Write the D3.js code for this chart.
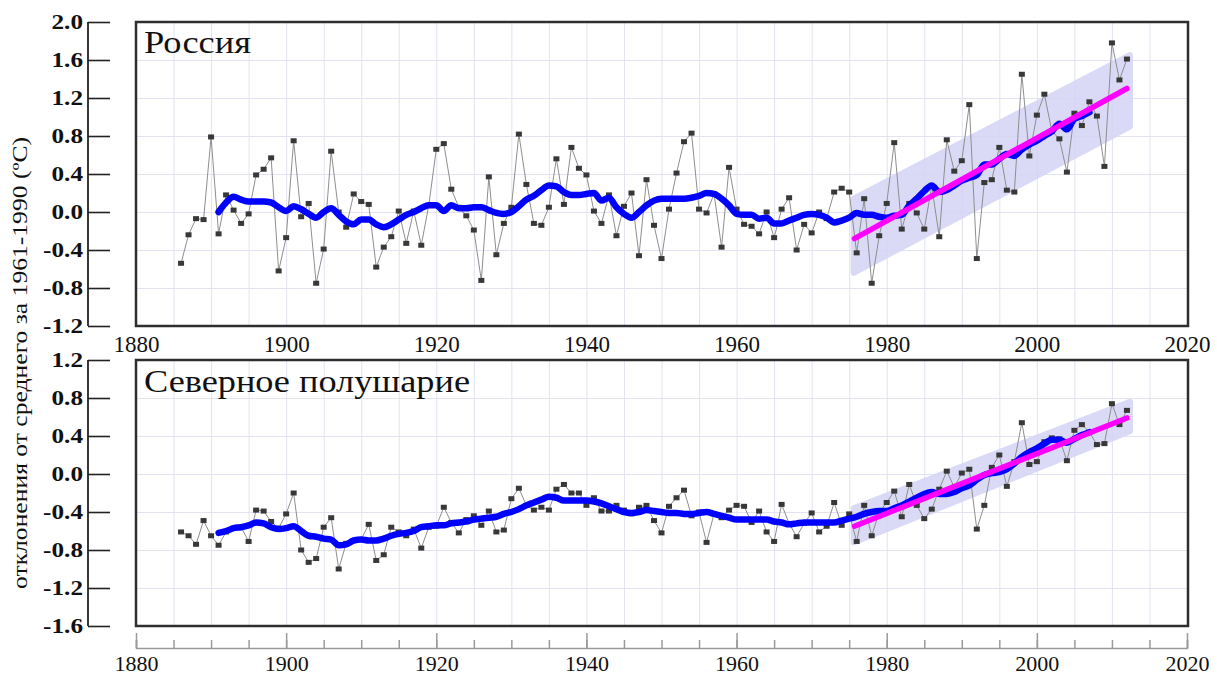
<!DOCTYPE html>
<html>
<head>
<meta charset="utf-8">
<script src="https://cdn.jsdelivr.net/npm/d3@7"></script>
<style>
body { margin: 0; background: #fff; }
svg { display: block; }
</style>
</head>
<body>
<svg id="chart" width="1217" height="675"></svg>
<script>
// yearly anomalies, 1886-2012
const pointYears = d3.range(1886, 2013);
// smoothed curve, 1891-2007
const smoothYears = d3.range(1891, 2008);

const russiaValues = [
  -0.54, -0.24, -0.07, -0.08, 0.79, -0.23, 0.18, 0.02, -0.12, -0.02,
  0.39, 0.45, 0.57, -0.62, -0.27, 0.75, -0.05, 0.09, -0.75, -0.39,
  0.64, 0.00, -0.16, 0.19, 0.11, 0.08, -0.58, -0.37, -0.26, 0.01,
  -0.33, 0.01, -0.35, 0.07, 0.66, 0.72, 0.24, 0.05, -0.04, -0.19,
  -0.72, 0.37, -0.45, -0.12, 0.05, 0.82, 0.29, -0.12, -0.14, 0.05,
  0.56, 0.08, 0.68, 0.46, 0.39, 0.01, -0.12, 0.18, -0.25, 0.06,
  0.20, -0.46, 0.34, -0.14, -0.49, 0.03, 0.41, 0.74, 0.83, 0.03,
  -0.01, 0.19, -0.37, 0.47, 0.03, -0.13, -0.15, -0.23, 0.00, -0.27,
  0.03, 0.15, -0.40, -0.13, -0.22, 0.00, -0.07, 0.21, 0.25, 0.21,
  -0.43, 0.14, -0.75, -0.25, 0.09, 0.73, -0.18, 0.09, -0.01, -0.18,
  0.27, -0.26, 0.76, 0.43, 0.54, 1.13, -0.49, 0.31, 0.34, 0.68,
  0.23, 0.21, 1.45, 0.59, 1.02, 1.24, 0.85, 0.77, 0.42, 1.04,
  0.91, 1.16, 1.01, 0.48, 1.78, 1.39, 1.61
];
const russiaSmooth = [
  0.00, 0.10, 0.16, 0.13, 0.11, 0.11, 0.11, 0.10, 0.05, 0.01,
  0.06, 0.03, -0.02, -0.06, 0.00, 0.04, -0.03, -0.10, -0.13, -0.08,
  -0.08, -0.13, -0.16, -0.13, -0.08, -0.03, 0.00, 0.04, 0.07, 0.07,
  0.01, 0.07, 0.04, 0.04, 0.05, 0.05, 0.02, -0.01, -0.02, 0.00,
  0.06, 0.13, 0.17, 0.23, 0.28, 0.27, 0.21, 0.18, 0.18, 0.19,
  0.20, 0.12, 0.15, 0.05, -0.02, -0.06, 0.00, 0.07, 0.12, 0.14,
  0.14, 0.14, 0.14, 0.15, 0.17, 0.20, 0.19, 0.14, 0.07, -0.02,
  -0.03, -0.03, -0.07, -0.06, -0.12, -0.12, -0.09, -0.06, -0.03, -0.02,
  -0.03, -0.06, -0.11, -0.09, -0.06, -0.01, -0.03, -0.03, -0.05, -0.06,
  -0.04, -0.03, 0.07, 0.14, 0.22, 0.28, 0.21, 0.23, 0.28, 0.33,
  0.36, 0.39, 0.50, 0.50, 0.56, 0.61, 0.59, 0.66, 0.71, 0.75,
  0.80, 0.85, 0.93, 0.87, 0.98, 1.01, 1.05
];
const nhValues = [
  -0.61, -0.65, -0.74, -0.49, -0.65, -0.75, -0.61, -0.57, -0.56, -0.71,
  -0.38, -0.39, -0.50, -0.57, -0.42, -0.20, -0.80, -0.93, -0.89, -0.56,
  -0.46, -1.00, -0.73, -0.70, -0.69, -0.53, -0.91, -0.85, -0.56, -0.61,
  -0.65, -0.58, -0.78, -0.56, -0.55, -0.35, -0.51, -0.62, -0.48, -0.44,
  -0.54, -0.39, -0.61, -0.59, -0.26, -0.15, -0.33, -0.38, -0.35, -0.38,
  -0.16, -0.11, -0.20, -0.20, -0.33, -0.25, -0.39, -0.39, -0.33, -0.38,
  -0.42, -0.35, -0.33, -0.49, -0.62, -0.34, -0.25, -0.17, -0.44, -0.40,
  -0.72, -0.42, -0.46, -0.38, -0.33, -0.34, -0.51, -0.39, -0.61, -0.71,
  -0.32, -0.52, -0.66, -0.52, -0.41, -0.61, -0.55, -0.30, -0.54, -0.42,
  -0.71, -0.33, -0.65, -0.40, -0.30, -0.18, -0.45, -0.11, -0.33, -0.47,
  -0.37, -0.16, 0.03, -0.14, 0.01, 0.05, -0.58, -0.33, 0.07, 0.20,
  -0.13, 0.13, 0.54, 0.10, 0.13, 0.34, 0.38, 0.37, 0.14, 0.46,
  0.52, 0.44, 0.31, 0.32, 0.74, 0.52, 0.67
];
const nhSmooth = [
  -0.62, -0.60, -0.57, -0.56, -0.54, -0.51, -0.52, -0.56, -0.58, -0.57,
  -0.55, -0.60, -0.65, -0.66, -0.68, -0.69, -0.75, -0.74, -0.70, -0.69,
  -0.70, -0.70, -0.68, -0.65, -0.63, -0.62, -0.60, -0.56, -0.55, -0.54,
  -0.54, -0.52, -0.51, -0.50, -0.48, -0.47, -0.46, -0.45, -0.42, -0.40,
  -0.37, -0.33, -0.30, -0.27, -0.24, -0.25, -0.28, -0.28, -0.28, -0.28,
  -0.29, -0.31, -0.34, -0.37, -0.40, -0.41, -0.40, -0.38, -0.39, -0.40,
  -0.41, -0.41, -0.42, -0.42, -0.41, -0.40, -0.42, -0.44, -0.46, -0.48,
  -0.48, -0.48, -0.48, -0.48, -0.50, -0.51, -0.53, -0.52, -0.51, -0.51,
  -0.51, -0.51, -0.51, -0.49, -0.47, -0.45, -0.42, -0.40, -0.39, -0.39,
  -0.36, -0.33, -0.29, -0.25, -0.21, -0.19, -0.21, -0.21, -0.19, -0.15,
  -0.12, -0.06, -0.01, 0.01, 0.02, 0.05, 0.11, 0.18, 0.23, 0.27,
  0.32, 0.36, 0.36, 0.33, 0.37, 0.41, 0.44
];

// linear trend since 1976 and its band
const trendYears = [1975.7, 2012];
const russiaTrend = [-0.28, 1.30];
const nhTrend = [-0.55, 0.59];
const bandYears = [1975.6, 2012.4];
const russiaBandHi = [0.14, 1.65];
const russiaBandLo = [-0.64, 0.90];
const nhBandHi = [-0.36, 0.76];
const nhBandLo = [-0.72, 0.45];

const russiaTicks = [-1.2, -0.8, -0.4, 0.0, 0.4, 0.8, 1.2, 1.6, 2.0];
const nhTicks = [-1.6, -1.2, -0.8, -0.4, 0.0, 0.4, 0.8, 1.2];
const yearTicks = [1880, 1900, 1920, 1940, 1960, 1980, 2000, 2020];
const gridYears = d3.range(1885, 2020, 5);
const minorYears = d3.range(1880, 2021, 5);

const panelTitles = ["Россия", "Северное полушарие"];
const yTitle = "отклонения от среднего за 1961-1990 (ºC)";

const serif = "Liberation Serif, Times New Roman, DejaVu Serif, serif";
const svg = d3.select("#chart");
const x = d3.scaleLinear().domain([1880, 2020]).range([136, 1187]);
const frameLeft = 136, frameRight = 1188;

const panels = [
  { title: panelTitles[0], values: russiaValues, smooth: russiaSmooth, trend: russiaTrend,
    bandHi: russiaBandHi, bandLo: russiaBandLo, ticks: russiaTicks,
    top: 22, bottom: 326, titleY: 53, titleLen: 107 },
  { title: panelTitles[1], values: nhValues, smooth: nhSmooth, trend: nhTrend,
    bandHi: nhBandHi, bandLo: nhBandLo, ticks: nhTicks,
    top: 360, bottom: 626, titleY: 392, titleLen: 326 }
];

panels.forEach(drawPanel);

function drawPanel(p) {
  const y = d3.scaleLinear()
    .domain([p.ticks[0], p.ticks[p.ticks.length - 1]])
    .range([p.bottom, p.top]);
  const g = svg.append("g");

  // light grid
  g.append("g")
    .attr("transform", `translate(0,${p.bottom})`)
    .call(d3.axisBottom(x).tickValues(gridYears).tickSize(-(p.bottom - p.top)).tickFormat(""))
    .call(s => s.select(".domain").remove())
    .selectAll("line").attr("stroke", "#e2e2f2").attr("stroke-width", 1);
  g.append("g")
    .attr("transform", `translate(${frameLeft},0)`)
    .call(d3.axisLeft(y).tickValues(p.ticks.slice(1, -1)).tickSize(-(frameRight - frameLeft)).tickFormat(""))
    .call(s => s.select(".domain").remove())
    .selectAll("line").attr("stroke", "#e2e2f2").attr("stroke-width", 1);

  // band around the trend
  const band = bandYears.map((yr, i) => ({ yr: yr, hi: p.bandHi[i], lo: p.bandLo[i] }));
  g.append("path")
    .datum(band)
    .attr("d", d3.area().x(d => x(d.yr)).y0(d => y(d.lo)).y1(d => y(d.hi)))
    .attr("fill", "#d6d6f6")
    .attr("stroke", "#d6d6f6")
    .attr("stroke-width", 6)
    .attr("stroke-linejoin", "round")
    .attr("opacity", 0.9);

  // yearly values
  const pts = pointYears.map((yr, i) => ({ yr: yr, v: p.values[i] }));
  g.append("path")
    .datum(pts)
    .attr("d", d3.line().x(d => x(d.yr)).y(d => y(d.v)))
    .attr("fill", "none")
    .attr("stroke", "#8e8e8e")
    .attr("stroke-width", 1);
  g.selectAll("rect.pt")
    .data(pts)
    .join("rect")
      .attr("class", "pt")
      .attr("x", d => x(d.yr) - 3)
      .attr("y", d => y(d.v) - 2.5)
      .attr("width", 6)
      .attr("height", 5)
      .attr("fill", "#383838");

  // smoothed curve
  const sm = smoothYears.map((yr, i) => ({ yr: yr, v: p.smooth[i] }));
  g.append("path")
    .datum(sm)
    .attr("d", d3.line().curve(d3.curveMonotoneX).x(d => x(d.yr)).y(d => y(d.v)))
    .attr("fill", "none")
    .attr("stroke", "#0000ff")
    .attr("stroke-width", 6.5)
    .attr("stroke-linejoin", "round")
    .attr("stroke-linecap", "round");

  // trend line
  const tr = trendYears.map((yr, i) => ({ yr: yr, v: p.trend[i] }));
  g.append("path")
    .datum(tr)
    .attr("d", d3.line().x(d => x(d.yr)).y(d => y(d.v)))
    .attr("fill", "none")
    .attr("stroke", "#ff00ff")
    .attr("stroke-width", 5.5)
    .attr("stroke-linecap", "round");

  // frame
  g.append("rect")
    .attr("x", frameLeft)
    .attr("y", p.top)
    .attr("width", frameRight - frameLeft)
    .attr("height", p.bottom - p.top)
    .attr("fill", "none")
    .attr("stroke", "#2e2e2e")
    .attr("stroke-width", 2.5);

  // y axis: line at 88, ticks to 110
  const ya = g.append("g")
    .attr("transform", "translate(110,0)")
    .call(d3.axisLeft(y).tickValues(p.ticks).tickSize(22).tickPadding(5).tickFormat(d => d.toFixed(1)));
  ya.select(".domain").remove();
  ya.selectAll("line").attr("stroke", "#222").attr("stroke-width", 1.6);
  ya.selectAll("text")
    .attr("x", -27 / 1.2)
    .attr("transform", "scale(1.2,1)")
    .attr("fill", "#111")
    .style("font-family", serif)
    .style("font-size", "21px")
    .style("font-weight", "bold");
  g.append("line")
    .attr("x1", 88).attr("x2", 88)
    .attr("y1", p.top).attr("y2", p.bottom)
    .attr("stroke", "#222")
    .attr("stroke-width", 1.8);

  // panel title
  g.append("text")
    .attr("x", 144)
    .attr("y", p.titleY)
    .attr("textLength", p.titleLen)
    .attr("lengthAdjust", "spacingAndGlyphs")
    .attr("fill", "#111")
    .style("font-family", serif)
    .style("font-size", "32px")
    .text(p.title);
}

// year labels under the top panel
const topYears = svg.append("g")
  .attr("transform", "translate(0,326)")
  .call(d3.axisBottom(x).tickValues(yearTicks).tickSize(0).tickPadding(10).tickFormat(d3.format("d")));
topYears.select(".domain").remove();
topYears.selectAll("text")
  .attr("fill", "#111")
  .style("font-family", serif)
  .style("font-size", "23px");

// bottom year axis with ticks pointing up
const bx = svg.append("g").attr("transform", "translate(0,648)");
bx.append("g")
  .call(d3.axisTop(x).tickValues(minorYears).tickSize(8).tickFormat(""))
  .call(s => s.selectAll("line,path").attr("stroke", "#9a9a9a").attr("stroke-width", 1.5));
bx.append("g")
  .call(d3.axisTop(x).tickValues(yearTicks).tickSize(15).tickFormat(""))
  .call(s => s.select(".domain").remove())
  .call(s => s.selectAll("line").attr("stroke", "#9a9a9a").attr("stroke-width", 1.5));
const bl = bx.append("g")
  .call(d3.axisBottom(x).tickValues(yearTicks).tickSize(0).tickPadding(7).tickFormat(d3.format("d")));
bl.select(".domain").remove();
bl.selectAll("text")
  .attr("fill", "#111")
  .style("font-family", serif)
  .style("font-size", "22px");

// shared y title
svg.append("text")
  .attr("transform", "translate(27,363) rotate(-90)")
  .attr("text-anchor", "middle")
  .attr("textLength", 452)
  .attr("lengthAdjust", "spacingAndGlyphs")
  .attr("fill", "#111")
  .style("font-family", serif)
  .style("font-size", "22px")
  .text(yTitle);
</script>
</body>
</html>
